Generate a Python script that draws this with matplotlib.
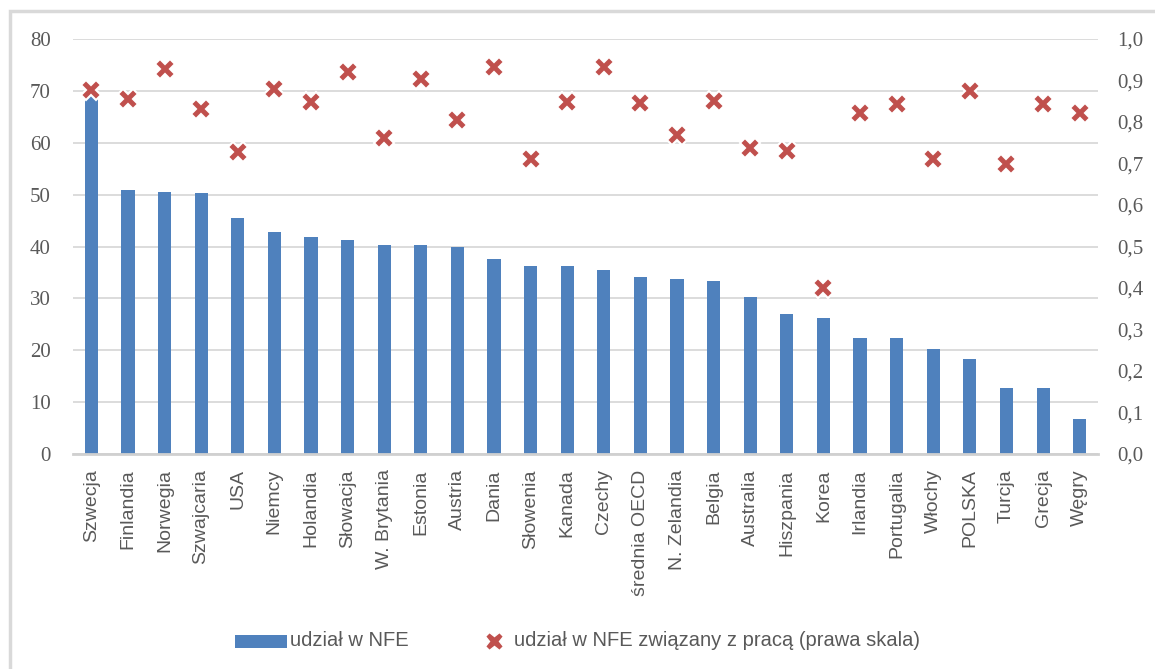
import matplotlib.pyplot as plt
import matplotlib.patches as mpatches
from matplotlib.ticker import FixedLocator, FuncFormatter
import numpy as np

kraje = ['Szwecja', 'Finlandia', 'Norwegia', 'Szwajcaria', 'USA', 'Niemcy',
         'Holandia', 'Słowacja', 'W. Brytania', 'Estonia', 'Austria', 'Dania',
         'Słowenia', 'Kanada', 'Czechy', 'średnia OECD', 'N. Zelandia', 'Belgia',
         'Australia', 'Hiszpania', 'Korea', 'Irlandia', 'Portugalia', 'Włochy',
         'POLSKA', 'Turcja', 'Grecja', 'Węgry']

# udział w NFE (lewa skala)
udzial = [69.3, 50.9, 50.5, 50.3, 45.5, 42.8, 41.9, 41.3, 40.3, 40.3, 40.0, 37.6,
          36.3, 36.3, 35.5, 34.2, 33.8, 33.4, 30.3, 27.0, 26.3, 22.4, 22.4, 20.2,
          18.4, 12.8, 12.8, 6.8]

# udział w NFE związany z pracą (prawa skala)
praca = [0.877, 0.855, 0.928, 0.831, 0.728, 0.880, 0.848, 0.920, 0.761, 0.904,
         0.805, 0.933, 0.711, 0.848, 0.933, 0.846, 0.769, 0.851, 0.737, 0.730,
         0.400, 0.822, 0.843, 0.711, 0.875, 0.699, 0.843, 0.822]

niebieski = '#4F81BD'
czerwony = '#C0504D'
szary = '#595959'
waski = ['Liberation Sans Narrow', 'Liberation Sans', 'DejaVu Sans']

W, H = 1155, 669
fig = plt.figure(figsize=(W / 100, H / 100), dpi=100)
ax = fig.add_axes([73 / W, 1 - 454 / H, (1098 - 73) / W, (454 - 39) / H])
ax2 = ax.twinx()

x = np.arange(len(kraje))
ax.bar(x, udzial, width=0.36, color=niebieski, zorder=2)
ax.set_xlim(-0.5, len(kraje) - 0.5)
ax.set_ylim(0, 80)
ax.set_yticks(range(0, 81, 10))
ax.grid(axis='y', color='#d9d9d9', linewidth=1.3, zorder=0)
ax.set_axisbelow(True)

ax2.plot(x, praca, linestyle='none', marker='X', markersize=14,
         markerfacecolor=czerwony, markeredgecolor='white', markeredgewidth=1.5,
         zorder=3)
ax2.set_ylim(0, 1.0)
ax2.yaxis.set_major_locator(FixedLocator(np.arange(0, 1.01, 0.1)))
ax2.yaxis.set_major_formatter(FuncFormatter(lambda v, p: f'{v:.1f}'.replace('.', ',')))

for a in (ax, ax2):
    for s in a.spines.values():
        s.set_visible(False)
    a.tick_params(length=0, colors=szary)
ax.spines['bottom'].set_visible(True)
ax.spines['bottom'].set_color('#d0d0d0')
ax.spines['bottom'].set_linewidth(2)

for lab in ax.get_yticklabels() + ax2.get_yticklabels():
    lab.set_fontfamily('Liberation Serif')
    lab.set_fontsize(15)
ax.tick_params(axis='y', pad=16)
ax2.tick_params(axis='y', pad=14)

ax.set_xticks(x)
ax.set_xticklabels(kraje, rotation=90, family=waski, fontsize=14, color=szary)
ax.tick_params(axis='x', pad=11)

# ramka wokół całego wykresu
fig.patches.append(mpatches.Rectangle((10 / W, -0.1), 1.2, 1 - 11 / H + 0.1,
                                      transform=fig.transFigure, fill=False,
                                      edgecolor='#d9d9d9', linewidth=2.5))

# legenda
ly = 1 - 641 / H
fig.patches.append(mpatches.Rectangle((235 / W, 1 - 648 / H), 52 / W, 13 / H,
                                      transform=fig.transFigure,
                                      facecolor=niebieski, edgecolor='none'))
fig.text(290 / W, ly, 'udział w NFE', family=waski, fontsize=14.5,
         color=szary, va='center', ha='left')
fig.add_artist(plt.Line2D([494 / W], [ly], transform=fig.transFigure,
                          linestyle='none', marker='X', markersize=13,
                          markerfacecolor=czerwony, markeredgecolor='white'))
fig.text(514 / W, ly, 'udział w NFE związany z pracą (prawa skala)', family=waski,
         fontsize=14.5, color=szary, va='center', ha='left')

fig.savefig('out.png', dpi=100)
